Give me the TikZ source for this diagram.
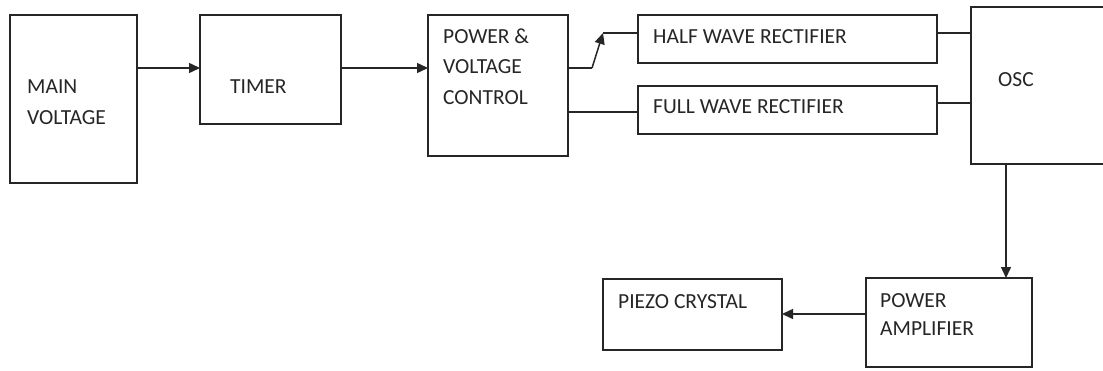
\documentclass[tikz,border=0pt]{standalone}
\usepackage{fontspec}
\setmainfont{Carlito}
\usetikzlibrary{arrows.meta}
\definecolor{ink}{HTML}{262626}
\definecolor{txt}{HTML}{262626}
\tikzset{
  box/.style={draw=ink, line width=1.6pt, rectangle, inner sep=0pt, outer sep=0pt, anchor=north west},
  lbl/.style={anchor=base west, inner sep=0pt, text=txt, font=\fontsize{21.5}{31}\selectfont},
  wire/.style={draw=ink, line width=1.5pt},
  arr/.style={wire, -{Triangle[length=11pt,width=10pt]}},
}
\begin{document}
\begin{tikzpicture}[x=1pt,y=-1pt]
\clip (0,0) rectangle (1103,370);
\fill[white] (0,0) rectangle (1103,370);
% boxes
\node[box, minimum width=127pt, minimum height=168pt] (mv) at (10,15) {};
\node[box, minimum width=141pt, minimum height=109pt] (tm) at (200,15) {};
\node[box, minimum width=140pt, minimum height=141pt] (pvc) at (428,15) {};
\node[box, minimum width=299pt, minimum height=48pt] (hw) at (638,15) {};
\node[box, minimum width=299pt, minimum height=48pt] (fw) at (638,86) {};
\node[box, minimum width=160pt, minimum height=157pt] (osc) at (971,7) {};
\node[box, minimum width=166pt, minimum height=89pt] (pa) at (866,278) {};
\node[box, minimum width=179pt, minimum height=71pt] (pz) at (603,279) {};
% labels
\node[lbl] (tmv1) at (27,93) {MAIN};
\node[lbl] (tmv2) at (27,124) {VOLTAGE};
\node[lbl] (ttm) at (230,93) {TIMER};
\node[lbl] (tp1) at (443,43) {POWER \&};
\node[lbl] (tp2) at (443,73) {VOLTAGE};
\node[lbl] (tp3) at (443,104) {CONTROL};
\node[lbl] (thw) at (653,43) {HALF WAVE RECTIFIER};
\node[lbl] (tfw) at (653,113) {FULL WAVE RECTIFIER};
\node[lbl] (tosc) at (998,86) {OSC};
\node[lbl] (tpa1) at (880,307) {POWER};
\node[lbl] (tpa2) at (880,335) {AMPLIFIER};
\node[lbl] (tpz) at (618,308) {PIEZO CRYSTAL};
% connectors
\coordinate (k1) at (592,68);
\coordinate (k2) at (603,33);
\draw[arr] (mv.east |- 0,68) -- (tm.west |- 0,68);
\draw[arr] (tm.east |- 0,68) -- (pvc.west |- 0,68);
\draw[wire] (pvc.east |- 0,68) -- (k1);
\draw[arr] (k1) -- (k2);
\draw[wire] (k2) -- (hw.west |- 0,33);
\draw[wire] (pvc.east |- 0,112) -- (fw.west |- 0,112);
\draw[wire] (hw.east |- 0,33) -- (osc.west |- 0,33);
\draw[wire] (fw.east |- 0,103) -- (osc.west |- 0,103);
\draw[arr] (osc.south -| 1006,0) -- (pa.north -| 1006,0);
\draw[arr] (pa.west |- 0,314) -- (pz.east |- 0,314);
\end{tikzpicture}
\end{document}
